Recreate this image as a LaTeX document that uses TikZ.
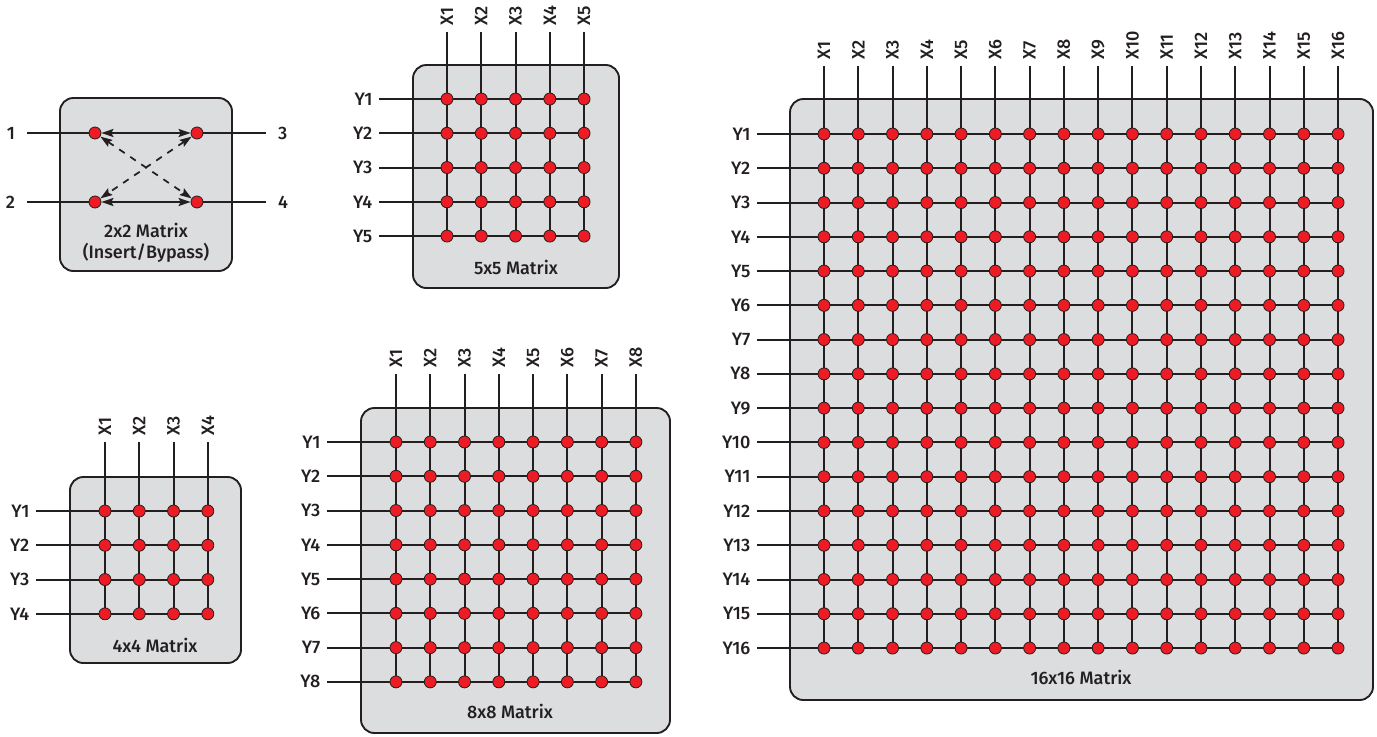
\documentclass[tikz,border=0pt]{standalone}
\usepackage{fontspec}
\setmainfont{Fira Sans}[UprightFont={* Medium}]
\usetikzlibrary{arrows.meta}
\definecolor{dotred}{HTML}{ED1C24}
\definecolor{ink}{HTML}{231F20}
\definecolor{boxgray}{HTML}{DCDDDF}
\pgfdeclarelayer{bg}
\pgfdeclarelayer{wires}
\pgfsetlayers{bg,wires,main}
\tikzset{
  panel/.style={draw=ink, fill=boxgray, line width=1.4pt, rounded corners=10pt},
  wire/.style={draw=ink, line width=1.5pt},
  xpt/.style={circle, fill=dotred, draw=ink, line width=0.6pt, minimum size=9pt, inner sep=0pt},
  lab/.style={font=\fontsize{13.5}{16}\selectfont, text=ink, inner sep=1pt},
  xlab/.style={lab, rotate=90, anchor=west, outer sep=4pt},
  ylab/.style={lab, anchor=east, outer sep=4pt},
  link/.style={draw=ink, line width=1.3pt, {Stealth[length=9pt,width=6pt,inset=1.5pt]}-{Stealth[length=9pt,width=6pt,inset=1.5pt]}},
  dlink/.style={link, dash pattern=on 5pt off 5pt},
}
% #1 name, #2 size, #3 x of X1, #4 y of Y1, #5 top of column wires, #6 left end of row wires
\newcommand{\crossmatrix}[6]{%
  \foreach \i in {1,...,#2}{%
    \foreach \j in {1,...,#2}{%
      \node[xpt] (#1-\i-\j) at ({#3+34.27*(\i-1)}, {#4+34.27*(\j-1)}) {};
    }%
    \node[xlab] (#1-X\i) at ({#3+34.27*(\i-1)}, #5) {X\i};
    \node[ylab] (#1-Y\i) at (#6, {#4+34.27*(\i-1)}) {Y\i};
  }%
  \begin{pgfonlayer}{wires}
  \foreach \i in {1,...,#2}{%
    \draw[wire] (#1-X\i.west) -- (#1-\i-#2.center);
    \draw[wire] (#1-Y\i.east) -- (#1-#2-\i.center);
  }%
  \end{pgfonlayer}
}
\begin{document}
\begin{tikzpicture}[x=0.75pt, y=-0.75pt]
\useasboundingbox (0,0) rectangle (1377,736);

% ---------- 2x2 ----------
\begin{pgfonlayer}{bg}
\draw[panel] (60,98) rectangle (232,271);
\end{pgfonlayer}
\node[xpt] (p1) at (95,133) {};
\node[xpt] (p3) at (197,133) {};
\node[xpt] (p2) at (95,202) {};
\node[xpt] (p4) at (197,202) {};
\node[lab, anchor=east, outer sep=8pt] (n1) at (27,133) {1};
\node[lab, anchor=east, outer sep=8pt] (n2) at (27,202) {2};
\node[lab, anchor=west, outer sep=8pt] (n3) at (266,133) {3};
\node[lab, anchor=west, outer sep=8pt] (n4) at (266,202) {4};
\begin{pgfonlayer}{wires}
\draw[wire] (n1.east) -- (p1.center);
\draw[wire] (n2.east) -- (p2.center);
\draw[wire] (p3.center) -- (n3.west);
\draw[wire] (p4.center) -- (n4.west);
\end{pgfonlayer}
\draw[link] (p1) -- (p3);
\draw[link] (p2) -- (p4);
\draw[dlink] (p1) -- (p4);
\draw[dlink] (p3) -- (p2);
\node[lab, align=center] (t2) at (146,243) {2x2 Matrix\\(Insert/Bypass)};

% ---------- 5x5 ----------
\begin{pgfonlayer}{bg}
\draw[panel] (413,65) rectangle (619,288);
\end{pgfonlayer}
\crossmatrix{m5}{5}{447}{99}{32}{379}
\node[lab] (t5) at (516,267) {5x5 Matrix};

% ---------- 4x4 ----------
\begin{pgfonlayer}{bg}
\draw[panel] (70,477) rectangle (241,663);
\end{pgfonlayer}
\crossmatrix{m4}{4}{105}{511}{442}{36}
\node[lab] (t4) at (155,645) {4x4 Matrix};

% ---------- 8x8 ----------
\begin{pgfonlayer}{bg}
\draw[panel] (361,408) rectangle (670,733);
\end{pgfonlayer}
\crossmatrix{m8}{8}{396}{442}{374}{327}
\node[lab] (t8) at (510,711) {8x8 Matrix};

% ---------- 16x16 ----------
\begin{pgfonlayer}{bg}
\draw[panel] (790,99) rectangle (1373,700);
\end{pgfonlayer}
\crossmatrix{m16}{16}{824}{134}{66}{757}
\node[lab] (t16) at (1081,677) {16x16 Matrix};
\end{tikzpicture}
\end{document}
